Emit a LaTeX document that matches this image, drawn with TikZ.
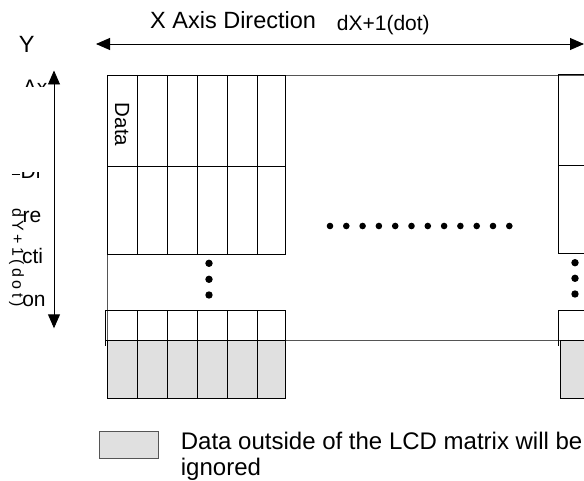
\documentclass[tikz,border=0pt]{standalone}
\usepackage{fontspec}
\setmainfont{Liberation Sans}
\usetikzlibrary{arrows.meta}
\definecolor{cellgray}{RGB}{224,224,224}
\definecolor{framegray}{RGB}{85,85,85}
\begin{document}
\begin{tikzpicture}[x=1pt,y=-1pt,
  cell/.style={draw=black,line width=0.8pt},
  frameline/.style={draw=framegray,line width=0.8pt},
  dimarrow/.style={line width=0.9pt,{Triangle[length=14pt,width=12pt]}-{Triangle[length=14pt,width=12pt]}},
  dotmark/.style={circle,fill=black,inner sep=0pt,minimum size=7pt},
  txt/.style={inner sep=0pt,font=\fontsize{21}{24}\selectfont},
  legendtxt/.style={inner sep=0pt,font=\fontsize{24}{28}\selectfont,anchor=base west},
]
\useasboundingbox (0,0) rectangle (584,481);

% ---- dimension arrows ----
\coordinate (xl) at (96,44);
\coordinate (xr) at (584,44);
\coordinate (yt) at (54,70.5);
\coordinate (yb) at (54,328.3);
\draw[dimarrow] (xl) -- (xr);
\draw[dimarrow] (yt) -- (yb);

\node[inner sep=0pt,font=\fontsize{23.5}{27}\selectfont,anchor=base west] (xtitle) at (150,29) {X Axis Direction};
\node[inner sep=0pt,font=\fontsize{21}{25}\selectfont,anchor=base west] (xsize) at (336.7,30.5) {dX+1(dot)};

% ---- stacked y-axis caption ----
\node[inner sep=0pt,font=\fontsize{23.5}{27}\selectfont] (ylet) at (26.7,44.7) {Y};
\begin{scope}
  \clip (15,76) rectangle (47,86.5);
  \node[txt,anchor=base west] (yaxis) at (22.7,94.3) {Axis};
\end{scope}
\begin{scope}
  \clip (10,172.5) rectangle (50,182);
  \node[txt,anchor=base] (ydi) at (30.6,178.7) {Di};
\end{scope}
\draw[line width=1.1pt] (11.7,174.3) -- (20,174.3);
\node[txt,anchor=base] (yre) at (32,222.5) {re};
\node[txt,anchor=base] (ycti) at (32.5,264) {cti};
\node[txt,anchor=base] (yon) at (34,307) {on};
\node[inner sep=0pt,font=\fontsize{16}{18}\selectfont,rotate=-90] (ysize) at (16.5,257.5)
  {d\kern3.4pt Y\kern3.4pt +\kern3.4pt 1\kern3.4pt (\kern3.4pt d\kern3.4pt o\kern3.4pt t\kern3.4pt )};

% ---- outer frame of the LCD matrix ----
\draw[frameline] (107.3,75) -- (590,75);
\draw[frameline] (107.3,75) -- (107.3,340.5);
\draw[frameline] (107.3,340.5) -- (590,340.5);

% ---- left column group ----
\draw[cell] (107.3,75) rectangle (285,254);
\draw[cell] (107.3,166.5) -- (285,166.5);
\foreach \cx in {137.5,167.5,197.3,227.3,257.3}
  \draw[cell] (\cx,75) -- (\cx,254);
\draw[cell] (105.5,310) rectangle (285,340.5);
\draw[cell] (105.5,340.5) -- (105.5,346);
\filldraw[cell,fill=cellgray] (107.3,340.5) rectangle (285,398.3);
\foreach \cx in {137.5,167.5,197.3,227.3,257.3}{
  \draw[cell] (\cx,310) -- (\cx,398.3);
}
\node[inner sep=0pt,font=\fontsize{20.5}{24}\selectfont,rotate=-90] (datalbl) at (122.2,124.5) {Data};

% ---- right column group ----
\draw[cell] (590,74) -- (558.3,74) -- (558.3,253.3) -- (590,253.3);
\draw[cell] (558.3,165.7) -- (590,165.7);
\draw[cell] (590,310) -- (558,310) -- (558,346);
\filldraw[cell,fill=cellgray] (590,340.5) -- (560,340.5) -- (560,398.3) -- (590,398.3);

% ---- ellipses ----
\foreach \i in {0,...,11}
  \node[dotmark,minimum size=6.6pt] (hdot\i) at ({330+16.3*\i},226) {};
\foreach \j/\cy in {1/263.3,2/279.3,3/295}
  \node[dotmark,minimum size=7.4pt] (ldot\j) at (209,\cy) {};
\foreach \j/\cy in {1/262.7,2/278.3,3/294}
  \node[dotmark,minimum size=7.4pt] (rdot\j) at (575,\cy) {};

% ---- legend ----
\node[draw=framegray,fill=cellgray,line width=0.8pt,inner sep=0pt,minimum width=58.4pt,minimum height=26.7pt,anchor=north west] (legendbox) at (99.3,431) {};
\node[legendtxt] (legend1) at (180.7,449) {Data outside of the LCD matrix will be};
\node[legendtxt] (legend2) at (180.7,475.5) {ignored};
\end{tikzpicture}
\end{document}
